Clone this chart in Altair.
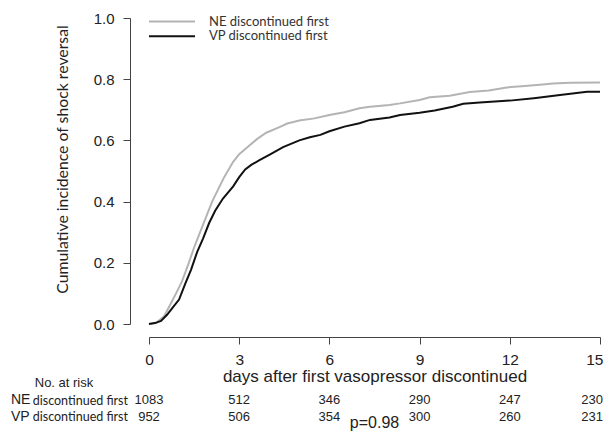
import altair as alt
import pandas as pd

# ---- data ----
series_names = ["NE discontinued first", "VP discontinued first"]
series_colors = ["#b4b4b4", "#111111"]

ne_days = [0, 0.25, 0.5, 0.7, 0.9, 1.1, 1.3, 1.5, 1.7, 1.9, 2.1, 2.3, 2.5, 2.8, 3.0, 3.3, 3.6,
           3.9, 4.3, 4.6, 5.0, 5.5, 6.0, 6.5, 7.0, 7.35, 8.0, 8.35, 9.0, 9.34, 10.0, 10.67,
           11.3, 11.9, 12.5, 13.0, 13.44, 14.0, 15.0]
ne_inc = [0, 0.005, 0.025, 0.062, 0.1, 0.14, 0.193, 0.25, 0.3, 0.35, 0.4, 0.44, 0.48, 0.53,
          0.555, 0.58, 0.605, 0.625, 0.642, 0.655, 0.665, 0.672, 0.683, 0.692, 0.705, 0.71,
          0.716, 0.721, 0.732, 0.741, 0.746, 0.758, 0.763, 0.773, 0.778, 0.782, 0.786, 0.788,
          0.789]

vp_days = [0, 0.2, 0.4, 0.6, 0.8, 1.0, 1.2, 1.4, 1.6, 1.8, 2.0, 2.2, 2.46, 2.8, 3.0, 3.2,
           3.4, 3.69, 4.0, 4.46, 5.0, 5.35, 5.7, 6.0, 6.5, 7.0, 7.35, 8.0, 8.35, 9.0, 9.5,
           10.1, 10.45, 11.0, 12.0, 12.8, 13.67, 14.57, 15.0]
vp_inc = [0, 0.003, 0.01, 0.03, 0.055, 0.08, 0.13, 0.178, 0.235, 0.28, 0.33, 0.37, 0.41,
          0.45, 0.48, 0.505, 0.52, 0.536, 0.553, 0.578, 0.6, 0.61, 0.618, 0.63, 0.645, 0.656,
          0.667, 0.675, 0.683, 0.69, 0.698, 0.71, 0.72, 0.724, 0.73, 0.738, 0.748, 0.759, 0.759]

risk_days = [0, 3, 6, 9, 12, 15]
ne_at_risk = [1083, 512, 346, 290, 247, 230]
vp_at_risk = [952, 506, 354, 300, 260, 231]
p_label = "p=0.98"

curves = pd.concat([
    pd.DataFrame({"day": ne_days, "inc": ne_inc, "series": series_names[0]}),
    pd.DataFrame({"day": vp_days, "inc": vp_inc, "series": series_names[1]}),
])
risk = pd.DataFrame({"day": risk_days, "ne": ne_at_risk, "vp": vp_at_risk})
risk_inner = risk[risk["day"] < 15]
risk_last = risk[risk["day"] == 15]

xscale = alt.Scale(domain=[0, 15], nice=False)
yscale = alt.Scale(domain=[0, 1], nice=False)
num_font = "Liberation Sans"
cal_font = "Lato"

lines = alt.Chart(curves).mark_line(strokeWidth=2).encode(
    x=alt.X("day:Q", scale=xscale,
            axis=alt.Axis(values=risk_days, title="days after first vasopressor discontinued",
                          offset=13, tickSize=7, labelPadding=8, titlePadding=1,
                          labelAlign={"condition": {"test": "datum.value == 15",
                                                    "value": "right"}, "value": "center"},
                          labelOffset={"condition": {"test": "datum.value == 15",
                                                     "value": 3}, "value": 0},
                          labelFontSize=15.5, titleFontSize=17, labelFont=num_font,
                          titleFont=num_font, titleFontWeight="normal",
                          domainColor="#444", tickColor="#444", labelColor="#222",
                          titleColor="#222", grid=False, labelFlush=False)),
    y=alt.Y("inc:Q", scale=yscale,
            axis=alt.Axis(values=[0, 0.2, 0.4, 0.6, 0.8, 1.0], format=".1f",
                          title="Cumulative incidence of shock reversal",
                          offset=19, tickSize=7, labelPadding=9,
                          labelFontSize=15, labelFont=num_font, titleFont=cal_font,
                          titleFontSize=15.8, titleFontWeight="normal",
                          titleX=-68, titleY=141, titleAngle=270, titleAlign="center",
                          titleBaseline="middle",
                          domainColor="#444", tickColor="#444", labelColor="#222",
                          titleColor="#222", grid=False, labelFlush=False)),
    color=alt.Color("series:N", scale=alt.Scale(domain=series_names, range=series_colors),
                    legend=None),
    detail="series:N",
)

layers = [lines]

# legend (drawn as decoration)
one = pd.DataFrame({"k": [0]})
for i, (name, col) in enumerate(zip(series_names, series_colors)):
    ypos = 3.5 + i * 14.7
    layers.append(alt.Chart(one).mark_rule(strokeWidth=2, color=col).encode(
        x=alt.value(0), x2=alt.value(46), y=alt.value(ypos)))
    layers.append(alt.Chart(one).mark_text(text=name, align="left", baseline="middle",
                                           font=cal_font, fontSize=13, color="#333").encode(
        x=alt.value(60), y=alt.value(ypos)))

# risk table
layers.append(alt.Chart(one).mark_text(text="No. at risk", align="center", baseline="middle",
                                       font=num_font, fontSize=13, color="#222").encode(
    x=alt.value(-85), y=alt.value(365)))
for j, (abbr, field, ypos) in enumerate([("NE", "ne", 382), ("VP", "vp", 398.5)]):
    layers.append(alt.Chart(one).mark_text(text=abbr, align="left", baseline="middle",
                                           font=num_font, fontSize=14, color="#222").encode(
        x=alt.value(-138), y=alt.value(ypos)))
    layers.append(alt.Chart(one).mark_text(text="discontinued first", align="right",
                                           baseline="middle", font=cal_font, fontSize=12.5,
                                           color="#222").encode(
        x=alt.value(-21), y=alt.value(ypos + 0.5)))
    layers.append(alt.Chart(risk_inner).mark_text(align="center", baseline="middle",
                                                  font=num_font, fontSize=13,
                                                  color="#222").encode(
        x=alt.X("day:Q", scale=xscale), y=alt.value(ypos), text=f"{field}:Q"))
    layers.append(alt.Chart(risk_last).mark_text(align="right", baseline="middle", dx=3,
                                                 font=num_font, fontSize=13,
                                                 color="#222").encode(
        x=alt.X("day:Q", scale=xscale), y=alt.value(ypos), text=f"{field}:Q"))

layers.append(alt.Chart(pd.DataFrame({"day": [7.5], "p": [p_label]})).mark_text(
    align="center", baseline="middle", font=num_font, fontSize=16, color="#222").encode(
    x=alt.X("day:Q", scale=xscale), y=alt.value(405), text="p:N"))

chart = alt.layer(*layers).properties(
    width=451, height=306,
    autosize=alt.AutoSizeParams(type="none"),
    padding={"left": 141, "top": 10, "right": 4, "bottom": 107},
    background="white",
).configure_view(stroke=None)

chart.save("out.html", embed_options={"renderer": "svg", "actions": False})
